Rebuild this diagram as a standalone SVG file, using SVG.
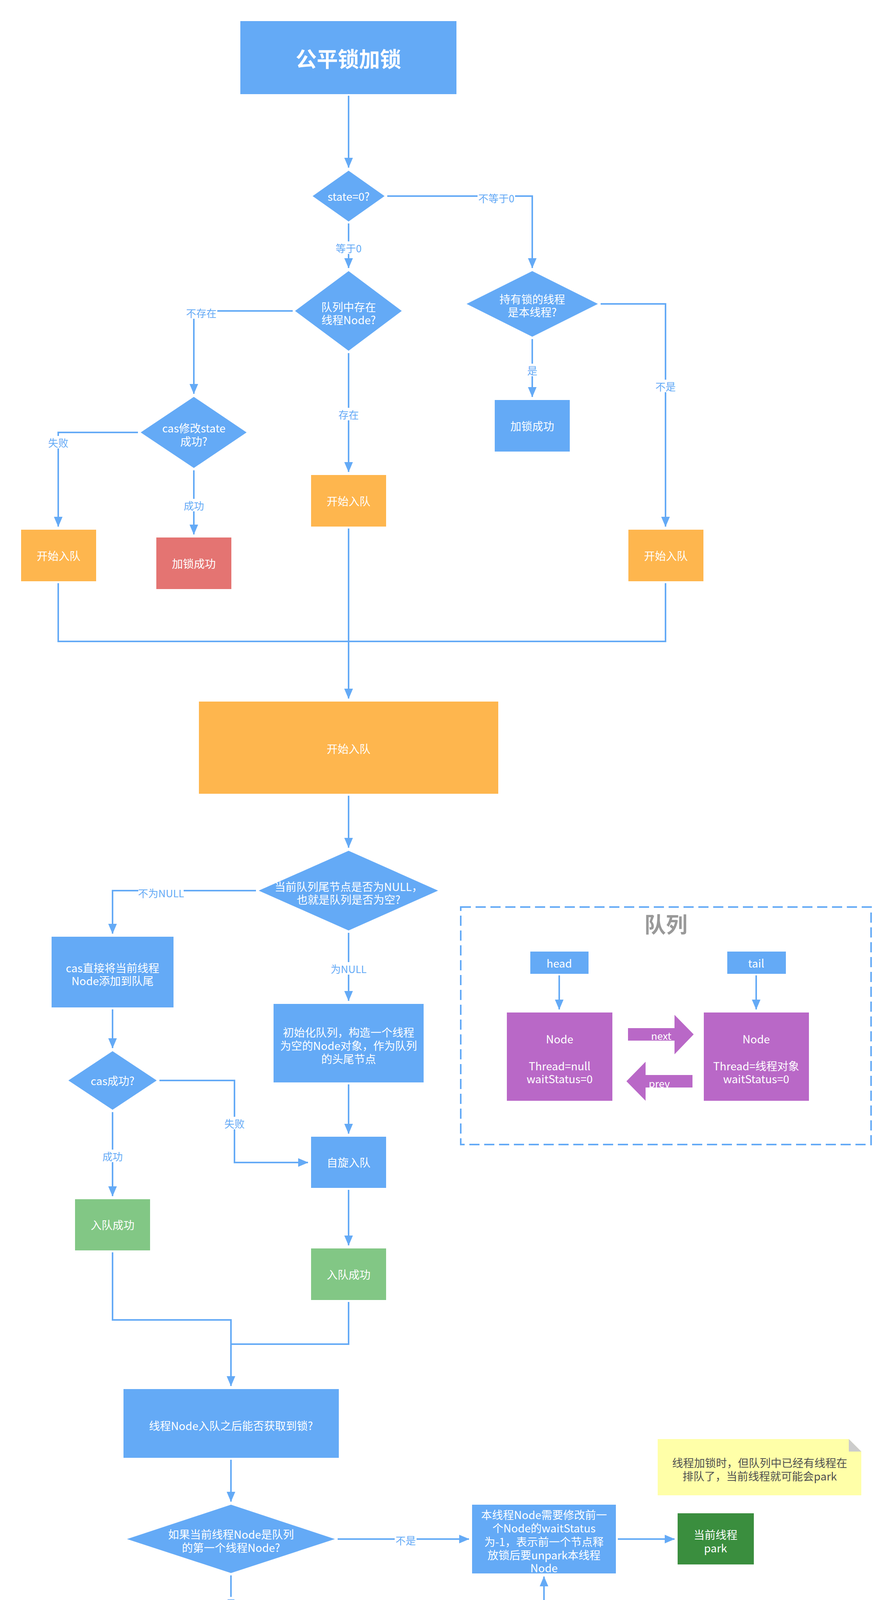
<svg xmlns="http://www.w3.org/2000/svg" width="2280" height="4650" viewBox="0 0 2280 4650">
<defs>
<style>
text{font-family:"Noto Sans CJK SC","Noto Sans",sans-serif;text-anchor:middle;dominant-baseline:central}
.n{font-size:28px;fill:#ffffff}
.l{font-size:26px;fill:#64AAF6}
.lb{fill:#ffffff}
.e{fill:none;stroke:#64AAF6;stroke-width:4}
.blue{fill:#64AAF6}
.orange{fill:#FEB64E}
.red{fill:#E47472}
.green{fill:#82C785}
.dgreen{fill:#3A8E3E}
.purple{fill:#B968C7}
</style>
<marker id="arr" markerUnits="userSpaceOnUse" markerWidth="26" markerHeight="22" viewBox="0 0 26 22" refX="25" refY="11" orient="auto">
<path d="M0,0 L26,11 L0,22 Z" fill="#64AAF6"/>
</marker>
</defs>
<rect width="2280" height="4650" fill="#ffffff"/>

<g id="connectors">
<path class="e" d="M892,245 L892,429" marker-end="url(#arr)"/>
<path class="e" d="M892,572 L892,686" marker-end="url(#arr)"/>
<path class="e" d="M991,502 L1362,502 L1362,686" marker-end="url(#arr)"/>
<path class="e" d="M749,796 L496,796 L496,1008" marker-end="url(#arr)"/>
<path class="e" d="M892,904 L892,1208" marker-end="url(#arr)"/>
<path class="e" d="M353,1107 L149,1107 L149,1348" marker-end="url(#arr)"/>
<path class="e" d="M496,1204 L496,1368" marker-end="url(#arr)"/>
<path class="e" d="M1362,868 L1362,1016" marker-end="url(#arr)"/>
<path class="e" d="M1537,778 L1703,778 L1703,1348" marker-end="url(#arr)"/>
<path class="e" d="M149,1493 L149,1642 L892,1642 L892,1788" marker-end="url(#arr)"/>
<path class="e" d="M1703,1493 L1703,1642 L892,1642"/>
<path class="e" d="M892,1353 L892,1788" marker-end="url(#arr)"/>
<path class="e" d="M892,2037 L892,2170" marker-end="url(#arr)"/>
<path class="e" d="M655,2280 L288,2280 L288,2390" marker-end="url(#arr)"/>
<path class="e" d="M892,2388 L892,2562" marker-end="url(#arr)"/>
<path class="e" d="M288,2584 L288,2683" marker-end="url(#arr)"/>
<path class="e" d="M408,2766 L600,2766 L600,2976 L788,2976" marker-end="url(#arr)"/>
<path class="e" d="M288,2847 L288,3062" marker-end="url(#arr)"/>
<path class="e" d="M892,2776 L892,2902" marker-end="url(#arr)"/>
<path class="e" d="M892,3046 L892,3188" marker-end="url(#arr)"/>
<path class="e" d="M288,3206 L288,3379 L591,3379 L591,3548" marker-end="url(#arr)"/>
<path class="e" d="M892,3333 L892,3441 L591,3441"/>
<path class="e" d="M591,3737 L591,3844" marker-end="url(#arr)"/>
<path class="e" d="M864,3940 L1200,3940" marker-end="url(#arr)"/>
<path class="e" d="M1581,3940 L1726,3940" marker-end="url(#arr)"/>
<path class="e" d="M591,4033 L591,4163" marker-end="url(#arr)"/>
<path class="e" d="M714,4248 L948,4248" marker-end="url(#arr)"/>
<path class="e" d="M591,4331 L591,4456" marker-end="url(#arr)"/>
<path class="e" d="M1293,4248 L1392,4248 L1392,4036" marker-end="url(#arr)"/>
<path class="e" d="M1431,2497 L1431,2584" marker-end="url(#arr)"/>
<path class="e" d="M1935,2497 L1935,2584" marker-end="url(#arr)"/>

<g id="edge-labels">
<rect class="lb" x="857" y="618" width="70" height="32"/><text class="l" x="892" y="634">等于0</text>
<rect class="lb" x="1222" y="490" width="96" height="32"/><text class="l" x="1270" y="506">不等于0</text>
<rect class="lb" x="474" y="784" width="82" height="32"/><text class="l" x="515" y="800">不存在</text>
<rect class="lb" x="864" y="1044" width="56" height="32"/><text class="l" x="892" y="1060">存在</text>
<rect class="lb" x="121" y="1116" width="56" height="32"/><text class="l" x="149" y="1132">失败</text>
<rect class="lb" x="468" y="1277" width="56" height="32"/><text class="l" x="496" y="1293">成功</text>
<rect class="lb" x="1347" y="931" width="30" height="32"/><text class="l" x="1362" y="947">是</text>
<rect class="lb" x="1675" y="972" width="56" height="32"/><text class="l" x="1703" y="988">不是</text>
<rect class="lb" x="354" y="2269" width="116" height="32"/><text class="l" x="412" y="2285">不为NULL</text>
<rect class="lb" x="848" y="2463" width="88" height="32"/><text class="l" x="892" y="2479">为NULL</text>
<rect class="lb" x="572" y="2859" width="56" height="32"/><text class="l" x="600" y="2875">失败</text>
<rect class="lb" x="260" y="2943" width="56" height="32"/><text class="l" x="288" y="2959">成功</text>
<rect class="lb" x="1010" y="3926" width="56" height="32"/><text class="l" x="1038" y="3942">不是</text>
<rect class="lb" x="576" y="4088" width="30" height="32"/><text class="l" x="591" y="4104">是</text>
<rect class="lb" x="790" y="4236" width="80" height="32"/><text class="l" x="830" y="4252">不成功</text>
<rect class="lb" x="563" y="4384" width="56" height="32"/><text class="l" x="591" y="4400">成功</text>
</g>
</g>

<g id="title"><rect class="blue" x="615" y="54" width="553" height="187"/><text x="891.5" y="148" style="font-size:54px;font-weight:bold;fill:#ffffff">公平锁加锁</text></g>
<g id="d-state"><polygon class="blue" points="892,437 984,502 892,567 800,502"/><text class="n" x="892" y="502">state=0?</text></g>
<g id="d-exist"><polygon class="blue" points="892,694 1028,796 892,898 755,796"/><text class="n" x="892" y="785">队列中存在</text><text class="n" x="892" y="818">线程Node?</text></g>
<g id="d-cas1"><polygon class="blue" points="496,1016 631,1107 496,1198 360,1107"/><text class="n" x="496" y="1095">cas修改state</text><text class="n" x="496" y="1129">成功?</text></g>
<g id="d-owner"><polygon class="blue" points="1362,694 1530,778 1362,862 1194,778"/><text class="n" x="1362" y="765">持有锁的线程</text><text class="n" x="1362" y="798">是本线程?</text></g>
<g id="enq-left"><rect class="orange" x="54" y="1356" width="192" height="132"/><text class="n" x="150" y="1422">开始入队</text></g>
<g id="lock-ok-red1"><rect class="red" x="400" y="1376" width="192" height="132"/><text class="n" x="496" y="1442">加锁成功</text></g>
<g id="enq-mid"><rect class="orange" x="796" y="1216" width="192" height="132"/><text class="n" x="892" y="1282">开始入队</text></g>
<g id="lock-ok-blue"><rect class="blue" x="1266" y="1024" width="192" height="132"/><text class="n" x="1362" y="1090">加锁成功</text></g>
<g id="enq-right"><rect class="orange" x="1608" y="1356" width="192" height="132"/><text class="n" x="1704" y="1422">开始入队</text></g>
<g id="enq-big"><rect class="orange" x="509" y="1796" width="766" height="236"/><text class="n" x="892" y="1916">开始入队</text></g>
<g id="d-tail"><polygon class="blue" points="892,2178 1121,2280 892,2382 662,2280"/><text class="n" x="892" y="2269">当前队列尾节点是否为NULL，</text><text class="n" x="892" y="2302">也就是队列是否为空?</text></g>
<g id="cas-add"><rect class="blue" x="132" y="2398" width="312" height="181"/><text class="n" x="288" y="2477">cas直接将当前线程</text><text class="n" x="288" y="2510">Node添加到队尾</text></g>
<g id="init-q"><rect class="blue" x="700" y="2570" width="384" height="201"/><text class="n" x="892" y="2642">初始化队列，构造一个线程</text><text class="n" x="892" y="2676">为空的Node对象，作为队列</text><text class="n" x="892" y="2710">的头尾节点</text></g>
<g id="d-cas2"><polygon class="blue" points="288,2691 401,2766 288,2841 175,2766"/><text class="n" x="288" y="2766">cas成功?</text></g>
<g id="spin"><rect class="blue" x="796" y="2910" width="192" height="131"/><text class="n" x="892" y="2975">自旋入队</text></g>
<g id="enq-ok-left"><rect class="green" x="192" y="3070" width="192" height="131"/><text class="n" x="288" y="3135">入队成功</text></g>
<g id="enq-ok-right"><rect class="green" x="796" y="3196" width="192" height="132"/><text class="n" x="892" y="3262">入队成功</text></g>
<g id="try-lock"><rect class="blue" x="316" y="3556" width="551" height="176"/><text class="n" x="591" y="3649">线程Node入队之后能否获取到锁?</text></g>
<g id="d-first"><polygon class="blue" points="591,3852 857,3940 591,4027 325,3940"/><text class="n" x="591" y="3927">如果当前线程Node是队列</text><text class="n" x="591" y="3961">的第一个线程Node?</text></g>
<g id="set-ws"><rect class="blue" x="1208" y="3852" width="368" height="176"/><text class="n" x="1392" y="3877">本线程Node需要修改前一</text><text class="n" x="1392" y="3911">个Node的waitStatus</text><text class="n" x="1392" y="3946">为-1，表示前一个节点释</text><text class="n" x="1392" y="3980">放锁后要unpark本线程</text><text class="n" x="1392" y="4013">Node</text></g>
<g id="park"><rect class="dgreen" x="1734" y="3874" width="195" height="131"/><text class="n" x="1831" y="3928">当前线程</text><text class="n" x="1831" y="3962">park</text></g>
<g id="note"><path d="M1683,3684 L2172,3684 L2204,3716 L2204,3828 L1683,3828 Z" fill="#FFFFA8"/><path d="M2172,3684 L2204,3716 L2172,3716 Z" fill="#CCCCCC"/><text x="1944" y="3744" style="font-size:28px;fill:#505050">线程加锁时，但队列中已经有线程在</text><text x="1944" y="3778" style="font-size:28px;fill:#505050">排队了，当前线程就可能会park</text></g>
<g id="d-cas3"><polygon class="blue" points="591,4171 707,4248 591,4325 476,4248"/><text class="n" x="591" y="4236">cas修改</text><text class="n" x="591" y="4269">state成功?</text></g>
<g id="unfair"><rect class="blue" x="956" y="4163" width="332" height="169"/><text class="n" x="1122" y="4220">在非公平锁的情况下，</text><text class="n" x="1122" y="4253">有可能state被其他线程</text><text class="n" x="1122" y="4286">提前改了</text></g>
<g id="lock-ok-red2"><rect class="red" x="495" y="4464" width="192" height="132"/><text class="n" x="591" y="4530">加锁成功</text></g>

<g id="queue">
<rect x="1179" y="2322" width="1050" height="608" fill="none" stroke="#64AAF6" stroke-width="4" stroke-dasharray="26 12"/>
<text x="1704" y="2363" style="font-size:55px;font-weight:bold;fill:#999999">队列</text>
<g id="q-head"><rect class="blue" x="1357" y="2436" width="149" height="57"/><text class="n" x="1431" y="2465">head</text></g>
<g id="q-tail"><rect class="blue" x="1861" y="2436" width="150" height="57"/><text class="n" x="1935" y="2465">tail</text></g>
<g id="q-node1"><rect class="purple" x="1297" y="2592" width="270" height="226"/><text class="n" x="1432" y="2659">Node</text><text class="n" x="1432" y="2728">Thread=null</text><text class="n" x="1432" y="2761">waitStatus=0</text></g>
<g id="q-node2"><rect class="purple" x="1801" y="2592" width="269" height="226"/><text class="n" x="1935" y="2659">Node</text><text class="n" x="1935" y="2728">Thread=线程对象</text><text class="n" x="1935" y="2761">waitStatus=0</text></g>
<g id="q-next"><polygon class="purple" points="1607,2632 1726,2632 1726,2598 1775,2648 1726,2699 1726,2664 1607,2664"/><text x="1692" y="2650" style="font-size:26px;fill:#ffffff">next</text></g>
<g id="q-prev"><polygon class="purple" points="1772,2752 1652,2752 1652,2718 1603,2768 1652,2818 1652,2784 1772,2784"/><text x="1687" y="2772" style="font-size:26px;fill:#ffffff">prev</text></g>
</g>
</svg>
